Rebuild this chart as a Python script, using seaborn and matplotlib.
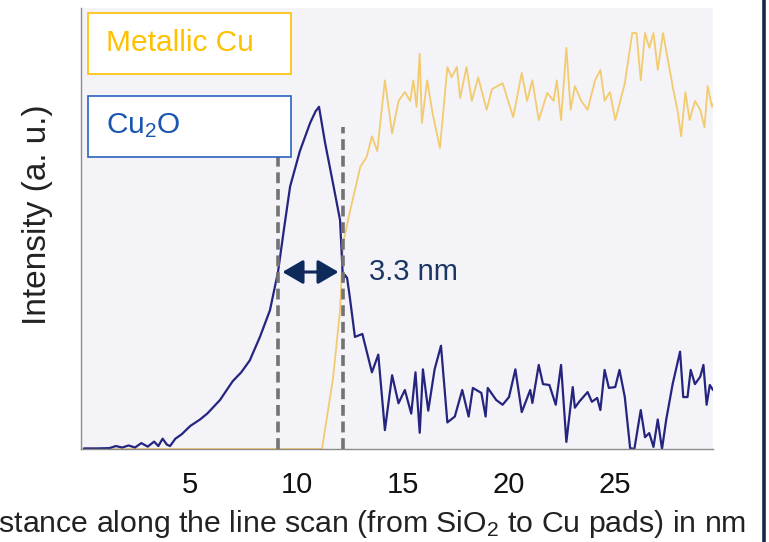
import matplotlib
matplotlib.use("Agg")
import matplotlib.pyplot as plt
import seaborn as sns
import pandas as pd
from matplotlib.patches import Rectangle, FancyArrowPatch
from matplotlib.lines import Line2D

# ---------------- data ----------------
cu2o_x = [0.0, 0.6, 1.2, 1.5, 1.8, 2.1, 2.4, 2.7, 3.0, 3.3, 3.5, 3.7, 3.9, 4.05,
          4.3, 4.6, 5.0, 5.46, 5.8, 6.4, 7.0, 7.4, 7.8, 8.28, 8.75, 9.13, 9.4,
          9.7, 10.16, 10.64, 10.9, 11.06, 11.34, 11.72, 12.05, 12.19, 12.28,
          12.38, 12.5, 12.75, 13.1, 13.55, 13.85, 14.16, 14.5, 14.8, 15.1, 15.4,
          15.6, 15.8, 15.95, 16.2, 16.5, 16.8, 17.1, 17.45, 17.8, 18.1, 18.3,
          18.7, 18.9, 19.0, 19.4, 19.7, 20.0, 20.3, 20.6, 21.0, 21.1, 21.4,
          21.6, 21.9, 22.2, 22.45, 22.7, 23.0, 23.1, 23.3, 23.7, 23.9, 24.15,
          24.3, 24.5, 24.7, 25.0, 25.2, 25.45, 25.7, 25.9, 26.2, 26.4, 26.6,
          26.8, 27.0, 27.2, 27.4, 27.7, 28.05, 28.2, 28.4, 28.55, 28.75, 29.0,
          29.15, 29.3, 29.45, 29.6]
cu2o_y = [0.02, 0.02, 0.03, 0.1, 0.05, 0.12, 0.05, 0.2, 0.08, 0.25, 0.1, 0.35,
          0.15, 0.1, 0.35, 0.5, 0.78, 1.0, 1.2, 1.66, 2.3, 2.6, 3.0, 3.8, 4.7,
          6.0, 7.4, 8.9, 10.1, 11.05, 11.45, 11.6, 10.4, 9.0, 7.76, 5.7, 5.9,
          5.8, 5.2, 3.8, 3.9, 2.6, 3.2, 0.64, 2.5, 1.55, 2.0, 1.2, 2.6, 0.55,
          2.7, 1.3, 2.7, 3.5, 0.9, 1.1, 2.0, 1.1, 2.07, 1.9, 1.1, 2.07, 1.66,
          1.5, 1.76, 2.7, 1.25, 2.0, 1.56, 2.85, 2.2, 2.17, 1.5, 2.85, 0.24,
          2.1, 1.4, 1.6, 1.93, 1.6, 1.73, 1.32, 2.68, 2.07, 2.1, 2.68, 1.76,
          0.03, 0.0, 1.32, 0.4, 0.54, 0.07, 1.0, 0.0, 1.0, 2.2, 3.3, 1.76,
          1.76, 2.68, 2.2, 2.45, 2.85, 1.5, 2.17, 2.0]

cu_x = [0.0, 11.2, 11.72, 12.05, 12.2, 12.5, 13.0, 13.3, 13.55, 13.8, 14.16,
        14.5, 14.8, 15.1, 15.35, 15.5, 15.65, 15.8, 15.9, 16.15, 16.4, 16.75,
        17.1, 17.3, 17.55, 17.7, 18.0, 18.25, 18.55, 18.95, 19.2, 19.7, 20.2,
        20.6, 20.85, 21.1, 21.4, 21.8, 22.1, 22.25, 22.45, 22.7, 22.9, 23.1,
        23.4, 23.7, 24.05, 24.3, 24.5, 24.75, 25.0, 25.2, 25.45, 25.8, 26.0,
        26.2, 26.4, 26.6, 26.8, 27.0, 27.25, 27.5, 27.7, 27.95, 28.1, 28.3,
        28.5, 28.75, 29.0, 29.2, 29.35, 29.55, 29.6]
cu_y = [0.0, 0.0, 2.4, 4.7, 7.0, 8.0, 9.56, 9.9, 10.6, 10.1, 12.5, 10.7, 11.8,
        12.1, 11.8, 12.5, 11.6, 13.4, 11.05, 12.5, 11.4, 10.2, 12.95, 12.6,
        12.95, 11.9, 12.95, 11.8, 12.6, 11.5, 12.2, 12.4, 11.25, 12.75, 11.8,
        12.5, 11.15, 12.07, 11.8, 12.5, 11.15, 13.6, 11.5, 12.3, 11.8, 11.5,
        12.5, 12.85, 11.8, 12.1, 11.15, 11.7, 12.4, 14.1, 14.1, 12.5, 14.1,
        13.6, 14.1, 12.85, 14.1, 13.1, 12.3, 11.4, 10.6, 12.1, 11.15, 11.8,
        11.5, 10.9, 12.3, 11.6, 11.7]

x_ticks = [5, 10, 15, 20, 25]
marker_left = 9.13
marker_right = 12.19
arrow_y = 6.0
width_label = "3.3 nm"
label_cu = "Metallic Cu"
label_cu2o = r"Cu$_\mathregular{2}$O"
xlabel = r"Distance along the line scan (from SiO$_\mathregular{2}$ to Cu pads) in nm"
ylabel = "Intensity (a. u.)"

# ---------------- style ----------------
sns.set_style("white")
plt.rcParams["font.family"] = ["Liberation Sans", "DejaVu Sans"]
plt.rcParams["mathtext.default"] = "regular"

W, H = 769, 542
fig = plt.figure(figsize=(W / 100, H / 100), dpi=100)
ax = fig.add_axes([81 / W, 1 - 449 / H, (713 - 81) / W, (449 - 8) / H])
ax.set_facecolor("#f3f3f8")

navy = "#25257f"
yellow = "#f3c760"

df_cu = pd.DataFrame({"x": cu_x, "y": cu_y})
df_o = pd.DataFrame({"x": cu2o_x, "y": cu2o_y})
sns.lineplot(data=df_cu, x="x", y="y", ax=ax, color=yellow, lw=1.3,
             estimator=None, sort=False, alpha=0.9)
sns.lineplot(data=df_o, x="x", y="y", ax=ax, color=navy, lw=1.6,
             estimator=None, sort=False)

ax.set_xlim(-0.14, 29.6)
ax.set_ylim(0, 14.95)
ax.set_xticks(x_ticks)
ax.set_xticklabels([str(t) for t in x_ticks])
ax.set_yticks(range(0, 15))
ax.set_yticklabels([])
ax.tick_params(axis="x", length=2, color="#999999", pad=13.5, labelsize=21,
               labelcolor="#111111")
ax.tick_params(axis="y", length=2, color="#999999")
ax.set_xlabel("")
ax.set_ylabel("")
for s in ["top", "right"]:
    ax.spines[s].set_visible(False)
for s in ["left", "bottom"]:
    ax.spines[s].set_color("#8c8c8c")
    ax.spines[s].set_linewidth(1.0)

# dashed markers
ax.plot([marker_left, marker_left], [0, (449 - 157) / 29.5], ls=(0, (3, 1.6)),
        color="#737373", lw=2.6, zorder=5)
ax.plot([marker_right, marker_right], [0, (449 - 127) / 29.5], ls=(0, (3, 1.6)),
        color="#737373", lw=2.6, zorder=5)
arr = FancyArrowPatch((marker_left + 0.08, arrow_y), (marker_right - 0.08, arrow_y),
                      arrowstyle="<|-|>,head_length=6,head_width=3.5",
                      color="#0d2a5a", lw=2.2, zorder=6, mutation_scale=2.1)
ax.add_patch(arr)
ax.text(13.4, arrow_y, width_label, color="#1b3664", fontsize=21,
        va="center", ha="left", zorder=7)

# legend boxes
fig.add_artist(Rectangle((88 / W, 1 - 74 / H), 203 / W, 61 / H,
                         transform=fig.transFigure, facecolor="white",
                         edgecolor="#ffc000", lw=1.2))
fig.text(106 / W, 1 - 43 / H, label_cu, color="#ffc000", fontsize=21.5,
         va="center", ha="left")
fig.add_artist(Rectangle((88 / W, 1 - 157 / H), 203 / W, 61 / H,
                         transform=fig.transFigure, facecolor="white",
                         edgecolor="#2a62c0", lw=1.2))
fig.text(106 / W, 1 - 126 / H, label_cu2o, color="#1a55b0", fontsize=21.5,
         va="center", ha="left")

# axis labels
fig.text(38 / W, 1 - 215 / H, ylabel, rotation=90, fontsize=24,
         color="#222222", va="center", ha="center")
fig.text(746 / W, 1 - 524 / H, xlabel, fontsize=21.8, color="#222222",
         va="center", ha="right")

# right border line
fig.add_artist(Line2D([764 / W, 764 / W], [0, 1], transform=fig.transFigure,
                      color="#15294d", lw=2.6))

fig.savefig("out.png", dpi=100)
